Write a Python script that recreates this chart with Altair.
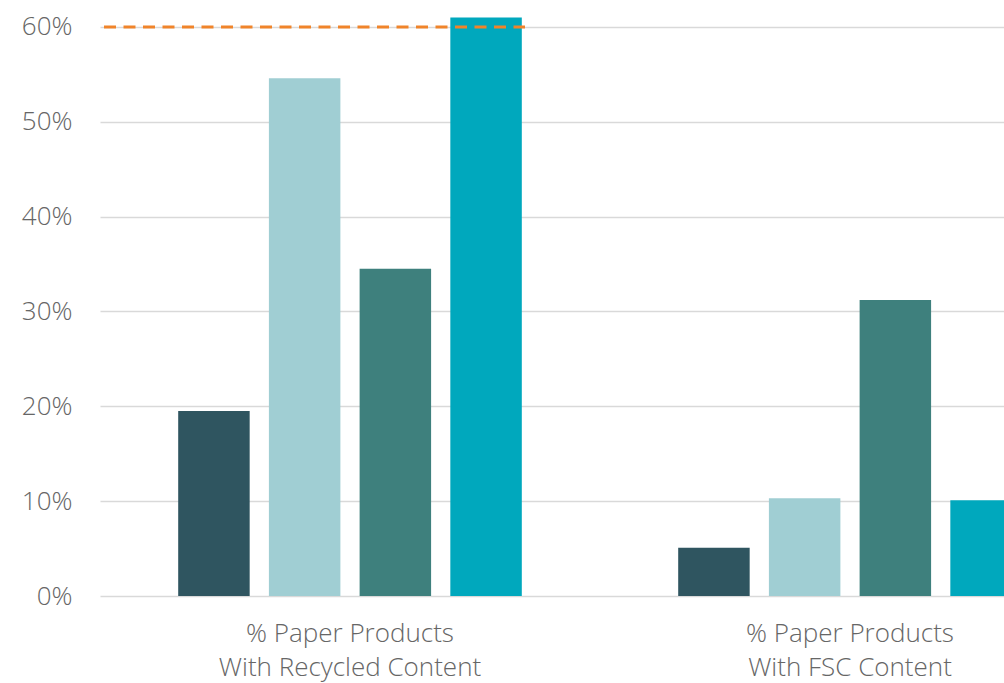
import altair as alt
import pandas as pd

# Category labels (two lines each) and the four series drawn inside each category
groups = ["% Paper Products\nWith Recycled Content", "% Paper Products\nWith FSC Content"]
series = ["Series 1", "Series 2", "Series 3", "Series 4"]

# Share of paper products, one value per series
recycled_values = [0.195, 0.546, 0.345, 0.610]
fsc_values = [0.051, 0.103, 0.312, 0.101]

series_colors = ["#2f5560", "#a0ced3", "#3e807d", "#00a8bd"]
y_ticks = [0.0, 0.1, 0.2, 0.3, 0.4, 0.5, 0.6]
target = [0.60]

rows = []
for g, vals in zip(groups, [recycled_values, fsc_values]):
    for s, v in zip(series, vals):
        rows.append({"group": g, "series": s, "value": v})
df = pd.DataFrame(rows)

label_font = "Open Sans"
label_color = "#666666"

bars = alt.Chart(df).mark_bar(clip=True).encode(
    x=alt.X(
        "group:N",
        sort=groups,
        scale=alt.Scale(range=[0, 1000], paddingInner=0, paddingOuter=0),
        axis=alt.Axis(
            title=None,
            domain=False,
            ticks=False,
            labelAngle=0,
            labelExpr="split(datum.label, '\\n')",
            labelFont=label_font,
            labelFontSize=26,
            labelFontWeight=300,
            labelColor=label_color,
            labelLineHeight=34,
            labelPadding=24,
            labelLimit=0,
        ),
    ),
    xOffset=alt.XOffset(
        "series:N",
        sort=series,
        scale=alt.Scale(paddingInner=0.212, paddingOuter=0.862),
    ),
    y=alt.Y(
        "value:Q",
        scale=alt.Scale(domain=[0, 0.62], nice=False),
        axis=alt.Axis(
            title=None,
            values=y_ticks,
            format=".0%",
            domain=False,
            ticks=False,
            grid=True,
            gridColor="#d9d9d9",
            gridWidth=1.5,
            labelFont=label_font,
            labelFontSize=26,
            labelFontWeight=300,
            labelColor=label_color,
            labelPadding=28,
        ),
    ),
    color=alt.Color(
        "series:N",
        scale=alt.Scale(domain=series, range=series_colors),
        legend=None,
    ),
)

# Dashed target line at 60%
target_line = alt.Chart(pd.DataFrame({"value": target})).mark_rule(
    color="#f0842a", strokeWidth=3, strokeDash=[12, 7.5]
).encode(
    y="value:Q",
    x=alt.value(4),
    x2=alt.value(425),
)

chart = alt.layer(bars, target_line).properties(
    width=904,
    height=588,
    autosize=alt.AutoSizeParams(type="none"),
    padding={"left": 100, "top": 8, "right": 0, "bottom": 87},
    background="white",
).configure_view(stroke=None)

chart.save("out.html", embed_options={"renderer": "svg", "actions": False})
